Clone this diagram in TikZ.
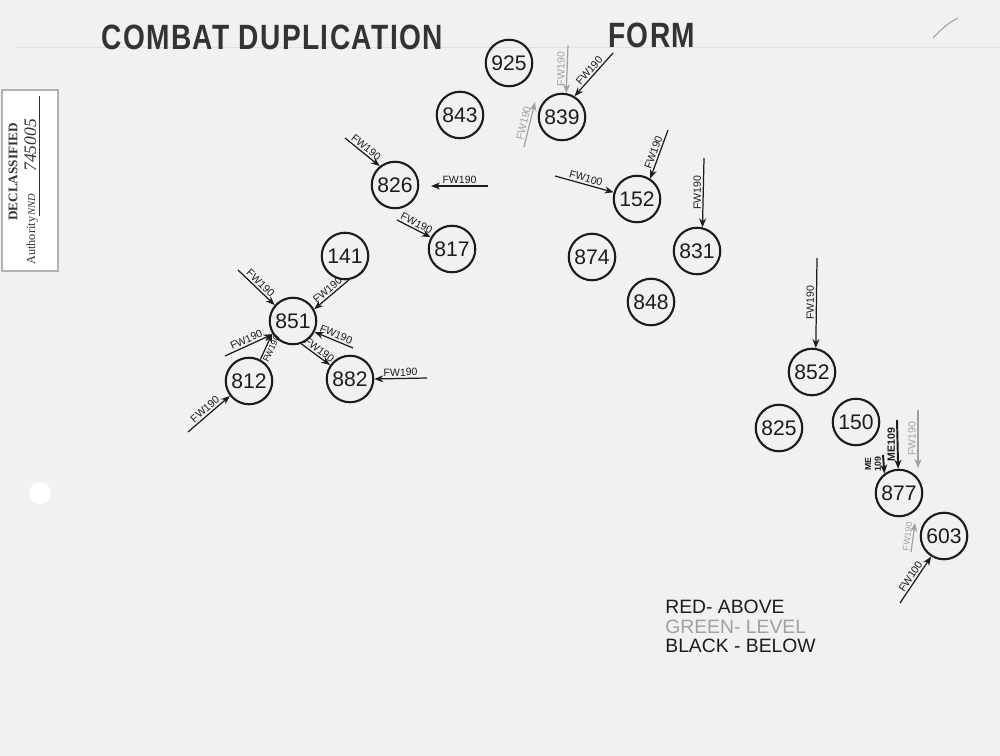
\documentclass[tikz,border=0pt]{standalone}
\usepackage{fontspec}
\setmainfont{Liberation Sans}
\newfontfamily\inkfont[FakeStretch=0.8,LetterSpace=4]{Liberation Sans}
\newfontfamily\stampfont{Liberation Serif}
\usetikzlibrary{arrows.meta}
\definecolor{paper}{HTML}{F1F1EF}
\definecolor{ink}{HTML}{1C1C1C}
\definecolor{pencil}{HTML}{A0A0A0}
\definecolor{rulegray}{HTML}{E0E0DE}
\definecolor{stamptext}{HTML}{333333}
\tikzset{
  title/.style={font=\inkfont\bfseries\fontsize{20}{22}\selectfont,text=ink!90,anchor=base west,inner sep=0pt},
  ship/.style={circle,draw=ink,line width=1.2pt,minimum size=0.93cm,inner sep=0pt,font=\fontsize{12}{14}\selectfont,text=ink},
  fw/.style={font=\fontsize{6}{7}\selectfont,inner sep=1pt,midway,sloped,above},
  fwv/.style={font=\fontsize{6}{7}\selectfont,inner sep=1pt,midway,rotate=90,anchor=south,align=center},
  arr/.style={-{Stealth[length=1.8mm,width=1.4mm]},draw=ink,line width=0.7pt,text=ink},
  arrgray/.style={arr,draw=pencil,text=pencil},
  arrthick/.style={arr,line width=1.1pt},
  legend/.style={font=\fontsize{11}{13}\selectfont,anchor=base west,inner sep=0pt}
}

\begin{document}
\begin{tikzpicture}[x=0.02cm,y=-0.02cm]
\fill[paper] (0,0) rectangle (1000,756);
\useasboundingbox (0,0) rectangle (1000,756);
% paper
\draw[rulegray,line width=0.5pt] (15,47) -- (1000,47);
\fill[white] (40,493) circle[radius=11];
\draw[pencil,line width=0.6pt] (933,38) .. controls (942,28) and (950,22) .. (958,18);
% stamp
\draw[gray!60,fill=white,line width=0.6pt] (2,90) rectangle (58,271);
\node[font=\stampfont\bfseries\fontsize{7.5}{9}\selectfont,text=stamptext,rotate=90] (dcl) at (13,172) {DECLASSIFIED};
\node[font=\stampfont\fontsize{7}{8}\selectfont,text=stamptext,rotate=90,anchor=base west,inner sep=0pt] (auth) at (35,265) {Authority};
\node[font=\stampfont\itshape\fontsize{6}{7}\selectfont,text=stamptext,rotate=90,anchor=base west,inner sep=0pt] (nnd) at (35,216) {NND};
\node[font=\stampfont\itshape\fontsize{10}{12}\selectfont,text=stamptext,rotate=90,anchor=base west,inner sep=0pt] (num) at (36,172) {745005};
\draw[stamptext,line width=0.4pt] (39,216) -- (39,96);
% title
\node[title] (ttl) at (101,50) {COMBAT DUPLICATION};
\node[title] (frm) at (608,48) {FORM};
% aircraft
\foreach \n/\x/\y in {925/509/63, 843/460/115, 839/562/117, 826/395/185, 817/452/249,
  152/637/199, 874/592/257, 831/697/251, 848/651/302, 141/345/256, 851/293/321,
  812/249/381, 882/350/379, 852/812/372, 825/779/428, 150/856/422, 877/899/493, 603/944/536}
  \node[ship] (c\n) at (\x,\y) {\n};
% attacks
\coordinate (f1) at (568,45);
\coordinate (f2) at (613,53);
\coordinate (f3) at (524,147);
\coordinate (f3t) at (535,102);
\coordinate (f4) at (345,138);
\coordinate (f5) at (488,186);
\coordinate (f5t) at (431,186);
\coordinate (f6) at (397,220);
\coordinate (f7) at (555,176);
\coordinate (f8) at (668,130);
\coordinate (f9) at (704,158);
\coordinate (f10) at (238,270);
\coordinate (f12) at (353,348);
\coordinate (f14) at (427,378);
\coordinate (f15) at (225,356);
\coordinate (f17) at (188,432);
\coordinate (f18) at (817,258);
\coordinate (f19) at (897,420);
\coordinate (f20) at (883,455);
\coordinate (f21) at (918,410);
\coordinate (f21t) at (918,468);
\coordinate (f22) at (911,552);
\coordinate (f22t) at (915,523);
\coordinate (f23) at (900,603);
\draw[arrgray] (f1) -- node[fwv] {FW190} (c839.80);
\draw[arr] (f2) -- node[fw] {FW190} (c839.59);
\draw[arrgray] (f3) -- node[fw] {FW190} (f3t);
\draw[arr] (f4) -- node[fw] {FW190} (c826.129);
\draw[arr] (f5) -- node[fw] {FW190} (f5t);
\draw[arr] (f6) -- node[fw] {FW190} (c817.151);
\draw[arr] (f7) -- node[fw] {FW100} (c152.164);
\draw[arr] (f8) -- node[fw] {FW190} (c152.57);
\draw[arr] (f9) -- node[fwv] {FW190} (c831.77);
\draw[arr] (f10) -- node[fw] {FW190} (c851.139);
\draw[arr] (c141.279) -- node[fw] {FW190} (c851.29);
\draw[arr] (f12) -- node[fw] {FW190} (c851.333);
\draw[arr] (c851.290) -- node[fw] {FW190} (c882.145);
\draw[arr] (f14) -- node[fw] {FW190} (c882.east);
\draw[arr] (f15) -- node[fw] {FW190} (c851.213);
\draw[arr] (c812.62) -- node[fw,below,font=\fontsize{5}{6}\selectfont] {FW190} (c851.211);
\draw[arr] (f17) -- node[fw] {FW190} (c812.218);
\draw[arr] (f18) -- node[fwv] {FW190} (c852.81);
\draw[arrthick] (f19) -- node[fwv,font=\bfseries\fontsize{6}{7}\selectfont] {ME109} (c877.92);
\draw[arrthick] (f20) -- node[fwv,font=\bfseries\fontsize{5}{5.5}\selectfont] {ME\\109} (c877.127);
\draw[arrgray] (f21) -- node[fwv] {FW190} (f21t);
\draw[arrgray] (f22) -- node[fw,font=\fontsize{5}{6}\selectfont] {FW190} (f22t);
\draw[arr] (f23) -- node[fw] {FW100} (c603.238);
% key
\node[legend,text=ink] (lred) at (665,613) {RED- ABOVE};
\node[legend,text=pencil] (lgreen) at (665,633) {GREEN- LEVEL};
\node[legend,text=ink] (lblack) at (665,652) {BLACK - BELOW};
\end{tikzpicture}
\end{document}
